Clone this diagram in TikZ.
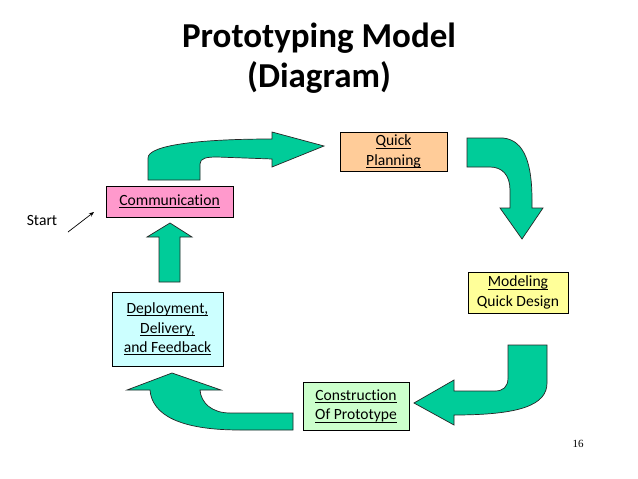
\documentclass[tikz,border=0pt]{standalone}
\usepackage{fontspec}
\setmainfont{Carlito}[Ligatures=CommonOff]
\newfontfamily\timesf{Liberation Serif}
\usetikzlibrary{arrows.meta}
\newcommand\myul[1]{\setbox0\hbox{#1}\leavevmode\rlap{\raisebox{-2.8pt}{\rule{\wd0}{0.9pt}}}\box0}
\definecolor{arrowgreen}{HTML}{00CC99}
\definecolor{boxpink}{HTML}{FF99CC}
\definecolor{boxpeach}{HTML}{FFCC99}
\definecolor{boxyellow}{HTML}{FFFF99}
\definecolor{boxcyan}{HTML}{CCFFFF}
\definecolor{boxgreen}{HTML}{CCFFCC}
\begin{document}
\begin{tikzpicture}[x=1pt,y=-1pt,
  box/.style={draw=black,line width=0.8pt,rectangle,inner sep=0pt,align=center,
    font=\fontsize{15.6}{19.5}\selectfont},
  blockarrow/.style={fill=arrowgreen,draw=black!85,line width=0.7pt,line join=miter},
  titlefont/.style={font=\fontsize{35}{40}\selectfont\bfseries},
  lbl/.style={font=\fontsize{15.6}{19.5}\selectfont,inner sep=0pt}]
\useasboundingbox[fill=white] (0,0) rectangle (638,479);

% title
\node[titlefont,anchor=base] (t1) at (319,47) {Prototyping Model};
\node[titlefont,anchor=base] (t2) at (319,87) {(Diagram)};

% boxes
\node[box,fill=boxpink,minimum width=127pt,minimum height=31pt] (comm) at (169.5,201.5) {\myul{Communication}};
\node[box,fill=boxpeach,minimum width=107pt,minimum height=39pt] (plan) at (393.5,151.5) {\myul{Quick}\\\myul{Planning}};
\node[box,fill=boxyellow,minimum width=100pt,minimum height=41pt] (model) at (518,292.5) {\myul{Modeling}\\Quick Design};
\node[box,fill=boxcyan,minimum width=111pt,minimum height=74pt] (deploy) at (167.5,329) {\myul{Deployment,}\\\myul{Delivery,}\\\myul{and Feedback}};
\node[box,fill=boxgreen,minimum width=106pt,minimum height=48pt] (constr) at (356,406) {\myul{Construction}\\\myul{Of Prototype}};

% block arrows
% communication -> quick planning
\draw[blockarrow] (148,180) -- (148,158) .. controls (148,145) and (200,139) .. (272,139)
  -- (272,132) -- (324,146) -- (272,167) -- (272,159) -- (217,157)
  .. controls (207,157) and (200,158) .. (200,164) -- (200,180) -- cycle;
% quick planning -> modeling
\draw[blockarrow] (467,138) -- (503,138) .. controls (525,140) and (532,165) .. (532,200)
  -- (532,208) -- (543,208) -- (522,239) -- (500,208) -- (510,208) -- (510,190)
  .. controls (510,175) and (502,167) .. (490,167) -- (467,167) -- cycle;
% modeling -> construction
\draw[blockarrow] (508,345) -- (547,345) -- (547,383) .. controls (547,405) and (520,415) .. (454,415)
  -- (454,425) -- (414,403) -- (454,380) -- (454,391) -- (495,391)
  .. controls (503,391) and (508,387) .. (508,378) -- cycle;
% construction -> deployment
\draw[blockarrow] (293,413) -- (293,430) -- (240,430) .. controls (180,430) and (152,415) .. (150,390)
  -- (127,390) -- (172,373) -- (221,390) -- (200,390)
  .. controls (201,403) and (212,413) .. (230,413) -- cycle;
% deployment -> communication
\draw[blockarrow] (159,282) -- (159,237) -- (147,237) -- (170,223) -- (192,237) -- (180,237) -- (180,282) -- cycle;

% start
\node[lbl] (start) at (42,220) {Start};
\coordinate (starttip) at (94,212);
\draw[line width=0.7pt,-{Stealth[length=5pt,width=4pt]}] (68,232) -- (starttip);

% page number
\node[font=\fontsize{11}{13}\selectfont\timesf,inner sep=0pt] (pnum) at (578,444) {16};
\end{tikzpicture}
\end{document}
